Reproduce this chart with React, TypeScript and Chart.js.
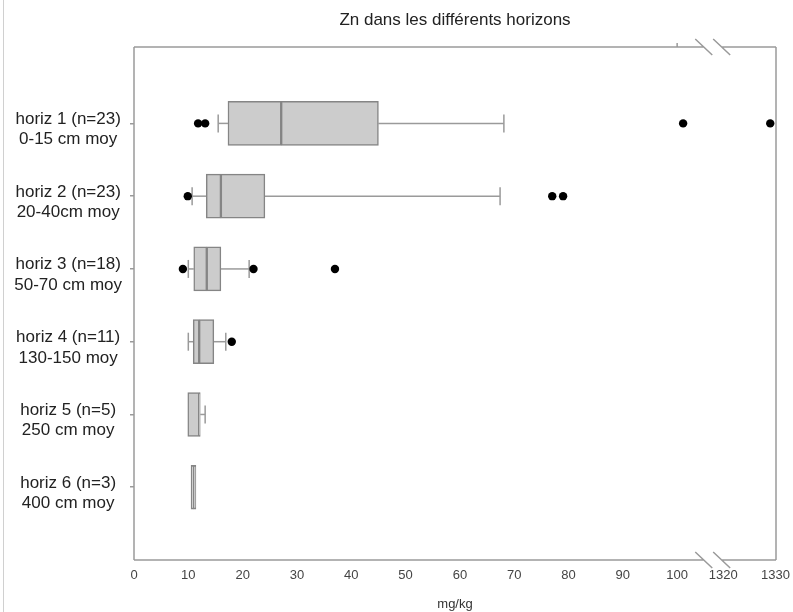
import { useEffect, useRef } from 'react';
import { Chart, registerables } from 'chart.js';

Chart.register(...registerables);

// ---- data ----
const categoryLines: string[][] = [
  ['horiz 1 (n=23)', '0-15 cm moy'],
  ['horiz 2 (n=23)', '20-40cm moy'],
  ['horiz 3 (n=18)', '50-70 cm moy'],
  ['horiz 4 (n=11)', '130-150 moy'],
  ['horiz 5 (n=5)', '250 cm moy'],
  ['horiz 6 (n=3)', '400 cm moy'],
];
const whiskerLow = [15.5, 10.7, 10.0, 10.0, 9.9, 10.5];
const q1 = [17.3, 13.3, 11.0, 10.9, 9.9, 10.5];
const median = [27.1, 16.0, 13.4, 12.0, 12.0, 11.0];
const q3 = [45.0, 24.1, 16.0, 14.7, 12.2, 11.4];
const whiskerHigh = [68.1, 67.4, 21.2, 16.9, 13.1, 11.4];
const outliers: number[][] = [
  [11.8, 13.1, 101.1, 1329],
  [9.9, 77.0, 79.0],
  [9.0, 22.0, 37.0],
  [18.0],
  [],
  [],
];
const xTickValues = [0, 10, 20, 30, 40, 50, 60, 70, 80, 90, 100, 1320, 1330];

// ---- axis break transform ----
const BREAK_HIGH = 1320;
const BREAK_POS = 108.5;
const HIGH_SCALE = 0.96;
const tx = (v: number) => (v < BREAK_HIGH ? v : BREAK_POS + (v - BREAK_HIGH) * HIGH_SCALE);
const inv = (t: number) => (t < BREAK_POS - 0.01 ? t : BREAK_HIGH + (t - BREAK_POS) / HIGH_SCALE);

const FONT = "'Liberation Sans', Arial, sans-serif";
const LINE = '#9a9a9a';

const whiskerPlugin = {
  id: 'whiskers',
  beforeDatasetsDraw(chart: any) {
    const xs = chart.scales.x;
    const ys = chart.scales.y;
    const ctx = chart.ctx;
    ctx.save();
    ctx.strokeStyle = LINE;
    ctx.lineWidth = 1.5;
    for (let i = 0; i < q1.length; i++) {
      const y = ys.getPixelForValue(i + 1);
      const cap = 9;
      const segs: [number, number][] = [
        [whiskerLow[i], q1[i]],
        [q3[i], whiskerHigh[i]],
      ];
      for (const [a, b] of segs) {
        if (Math.abs(b - a) < 1e-9) continue;
        const pa = xs.getPixelForValue(tx(a));
        const pb = xs.getPixelForValue(tx(b));
        ctx.beginPath();
        ctx.moveTo(pa, y);
        ctx.lineTo(pb, y);
        ctx.stroke();
      }
      for (const w of [whiskerLow[i], whiskerHigh[i]]) {
        if (w === q1[i] || w === q3[i]) continue;
        const p = xs.getPixelForValue(tx(w));
        ctx.beginPath();
        ctx.moveTo(p, y - cap);
        ctx.lineTo(p, y + cap);
        ctx.stroke();
      }
    }
    ctx.restore();
  },
};

const framePlugin = {
  id: 'frame',
  afterDraw(chart: any) {
    const { left, right, top, bottom } = chart.chartArea;
    const xs = chart.scales.x;
    const ctx = chart.ctx;
    const b1 = xs.getPixelForValue(104.9);
    const b2 = xs.getPixelForValue(108.2);
    ctx.save();
    ctx.strokeStyle = LINE;
    ctx.lineWidth = 1.5;
    ctx.beginPath();
    ctx.moveTo(left, top);
    ctx.lineTo(left, bottom);
    ctx.moveTo(right, top);
    ctx.lineTo(right, bottom);
    for (const y of [top, bottom]) {
      ctx.moveTo(left, y);
      ctx.lineTo(b1, y);
      ctx.moveTo(b2, y);
      ctx.lineTo(right, y);
      for (const c of [b1, b2]) {
        ctx.moveTo(c - 8.5, y - 8);
        ctx.lineTo(c + 8.5, y + 8);
      }
    }
    for (const t of [100]) {
      const p = xs.getPixelForValue(t);
      ctx.moveTo(p, top);
      ctx.lineTo(p, top - 4);
    }
    ctx.stroke();
    ctx.restore();
  },
};

export default function App() {
  const ref = useRef<HTMLCanvasElement>(null);
  useEffect(() => {
    if (!ref.current) return;
    const outlierPoints: { x: number; y: number }[] = [];
    outliers.forEach((arr, i) => arr.forEach((v) => outlierPoints.push({ x: tx(v), y: i + 1 })));

    const boxStyle = {
      type: 'bar' as const,
      indexAxis: 'y' as const,
      backgroundColor: '#cccccc',
      borderColor: '#858585',
      borderWidth: 1.5,
      borderSkipped: false,
      barThickness: 44,
      grouped: false,
    };

    const chart = new Chart(ref.current, {
      type: 'bar',
      data: {
        datasets: [
          {
            ...boxStyle,
            label: 'lower box',
            data: q1.map((v, i) => ({ x: [tx(v), tx(median[i])], y: i + 1 })),
          } as any,
          {
            ...boxStyle,
            label: 'upper box',
            data: q3.map((v, i) => ({ x: [tx(median[i]), tx(v)], y: i + 1 })),
          } as any,
          {
            type: 'scatter',
            label: 'outliers',
            data: outlierPoints,
            pointRadius: 4.2,
            pointBackgroundColor: '#000',
            pointBorderColor: '#000',
            pointBorderWidth: 0,
            clip: false,
          } as any,
        ],
      },
      options: {
        animation: false,
        responsive: true,
        maintainAspectRatio: false,
        layout: { padding: { left: 0, right: 17, top: 0, bottom: 0 } },
        plugins: {
          legend: { display: false },
          tooltip: { enabled: false },
          title: {
            display: true,
            fullSize: false,
            text: 'Zn dans les différents horizons',
            color: '#222',
            font: { family: FONT, size: 17, weight: 'normal', lineHeight: 1.2 },
            padding: { top: 9.8, bottom: 16.8 },
          },
        },
        scales: {
          x: {
            type: 'linear',
            position: 'bottom',
            offset: false,
            min: 0,
            max: 118.2,
            afterBuildTicks: (scale: any) => {
              scale.ticks = xTickValues.map((v) => ({ value: tx(v) }));
            },
            afterFit: (scale: any) => {
              scale.height = 52;
              scale.paddingLeft = 0;
              scale.paddingRight = 0;
            },
            ticks: {
              callback: (v: any) => String(Math.round(inv(Number(v)))),
              color: '#444',
              font: { family: FONT, size: 13 },
              padding: 8,
              maxRotation: 0,
              autoSkip: false,
            },
            grid: { display: false, drawTicks: false, offset: false },
            border: { display: false },
            title: {
              display: true,
              text: 'mg/kg',
              color: '#333',
              font: { family: FONT, size: 13 },
              padding: { top: 0, bottom: 0 },
            },
          },
          y: {
            type: 'linear',
            reverse: true,
            offset: false,
            min: -0.05,
            max: 7,
            afterBuildTicks: (scale: any) => {
              scale.ticks = categoryLines.map((_, i) => ({ value: i + 1 }));
            },
            afterFit: (scale: any) => {
              scale.width = 134;
            },
            ticks: {
              callback: (v: any) => categoryLines[Number(v) - 1] ?? '',
              color: '#222',
              font: { family: FONT, size: 17, lineHeight: 1.2 },
              crossAlign: 'center',
              padding: 8,
              labelOffset: 6,
              autoSkip: false,
            },
            grid: { drawOnChartArea: false, drawTicks: true, tickLength: 4, color: LINE, lineWidth: 1.5, offset: false },
            border: { display: false },
          },
        },
      } as any,
      plugins: [whiskerPlugin, framePlugin],
    });
    return () => chart.destroy();
  }, []);

  return (
    <div style={{ position: 'fixed', left: 0, top: 0, width: 793, height: 612, background: '#fff' }}>
      <div style={{ position: 'absolute', left: 3, top: 0, width: 1, height: 612, background: '#d0d0d0' }} />
      <canvas ref={ref} />
    </div>
  );
}
